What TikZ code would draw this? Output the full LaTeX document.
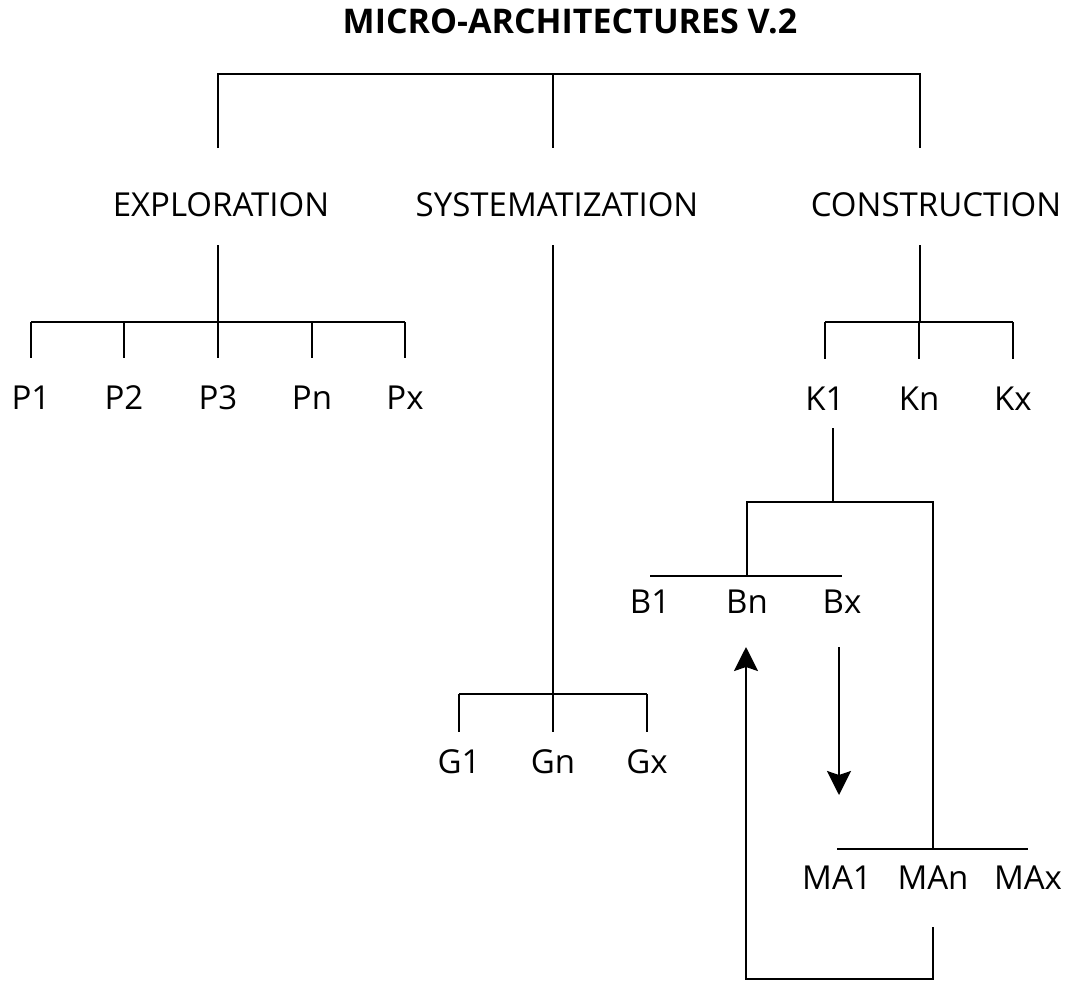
\documentclass[tikz,border=0pt]{standalone}
\usepackage{fontspec}
\setmainfont{Open Sans}
\usetikzlibrary{arrows.meta,positioning}
\tikzset{
  heading/.style={
    inner sep=0pt,
    font=\fontsize{17}{20}\selectfont\bfseries,
  },
  stage/.style={
    inner sep=0pt,
    font=\fontsize{16.5}{20}\selectfont,
  },
  item/.style={
    inner sep=0pt,
    font=\fontsize{16.5}{20}\selectfont,
  },
  branch/.style={line width=1.2pt},
  feedback/.style={line width=1.2pt, -{Stealth[length=12pt,width=12pt,inset=2pt]}},
}

\begin{document}
\begin{tikzpicture}[x=0.5pt,y=-0.5pt]
  \useasboundingbox (0,0) rectangle (1067,982);
  \node[heading] (title) at (570,21) {MICRO-ARCHITECTURES V.2};

  % first level
  \node[stage] (expl) at (221,205) {EXPLORATION};
  \node[stage] (syst) at (557,205) {SYSTEMATIZATION};
  \node[stage] (cons) at (936,205) {CONSTRUCTION};
  \coordinate (root) at (553,74);
  \coordinate (expl-in) at (218,148);
  \coordinate (syst-in) at (553,148);
  \coordinate (cons-in) at (920,148);
  \draw[branch] (expl-in) |- (root) -| (cons-in);
  \draw[branch] (root) -- (syst-in);

  % exploration
  \coordinate (expl-out) at (218,245);
  \coordinate (p-bar) at (218,322);
  \draw[branch] (expl-out) -- (p-bar);
  \foreach \p/\x in {P1/31,P2/124,P3/218,Pn/312,Px/405}
    \node[item] (\p) at (\x,398) {\p};
  \draw[branch] (P1.north |- p-bar) -- (Px.north |- p-bar);
  \foreach \p in {P1,P2,P3,Pn,Px}
    \draw[branch, shorten >=14pt] (\p.north |- p-bar) -- (\p.north);

  % systematization
  \coordinate (syst-out) at (553,245);
  \coordinate (g-bar) at (553,694);
  \draw[branch] (syst-out) -- (g-bar);
  \foreach \g/\x in {G1/459,Gn/553,Gx/647}
    \node[item] (\g) at (\x,762) {\g};
  \draw[branch] (G1.north |- g-bar) -- (Gx.north |- g-bar);
  \foreach \g in {G1,Gn,Gx}
    \draw[branch, shorten >=9pt] (\g.north |- g-bar) -- (\g.north);

  % construction
  \coordinate (cons-out) at (920,245);
  \coordinate (k-bar) at (920,322);
  \draw[branch] (cons-out) -- (k-bar);
  \foreach \k/\x in {K1/825,Kn/919,Kx/1013}
    \node[item] (\k) at (\x,399) {\k};
  \draw[branch] (K1.north |- k-bar) -- (Kx.north |- k-bar);
  \foreach \k in {K1,Kn,Kx}
    \draw[branch, shorten >=14pt] (\k.north |- k-bar) -- (\k.north);

  % K1 -> B and MA
  \foreach \b/\x in {B1/650,Bn/747,Bx/842}
    \node[item] (\b) at (\x,602) {\b};
  \foreach \m/\x in {MA1/837,MAn/933,MAx/1028}
    \node[item] (\m) at (\x,878) {\m};
  \coordinate (k1-out) at (833,428);
  \coordinate (b-join) at (833,502);
  \coordinate (b-bar) at (747,576);
  \coordinate (ma-bar) at (933,849);
  \draw[branch] (k1-out) -- (b-join);
  \draw[branch] (b-bar) |- (b-join) -| (ma-bar);
  \draw[branch] (B1 |- b-bar) -- (Bx |- b-bar);
  \draw[branch] (MA1 |- ma-bar) -- (MAx |- ma-bar);

  % cycle between B and MA
  \coordinate (bx-out) at (839,647);
  \coordinate (ma-in) at (839,795);
  \coordinate (ma-out) at (933,927);
  \coordinate (loop-base) at (746,979);
  \coordinate (bn-in) at (746,647);
  \draw[feedback] (bx-out) -- (ma-in);
  \draw[feedback] (ma-out) |- (loop-base) -- (bn-in);
\end{tikzpicture}
\end{document}
